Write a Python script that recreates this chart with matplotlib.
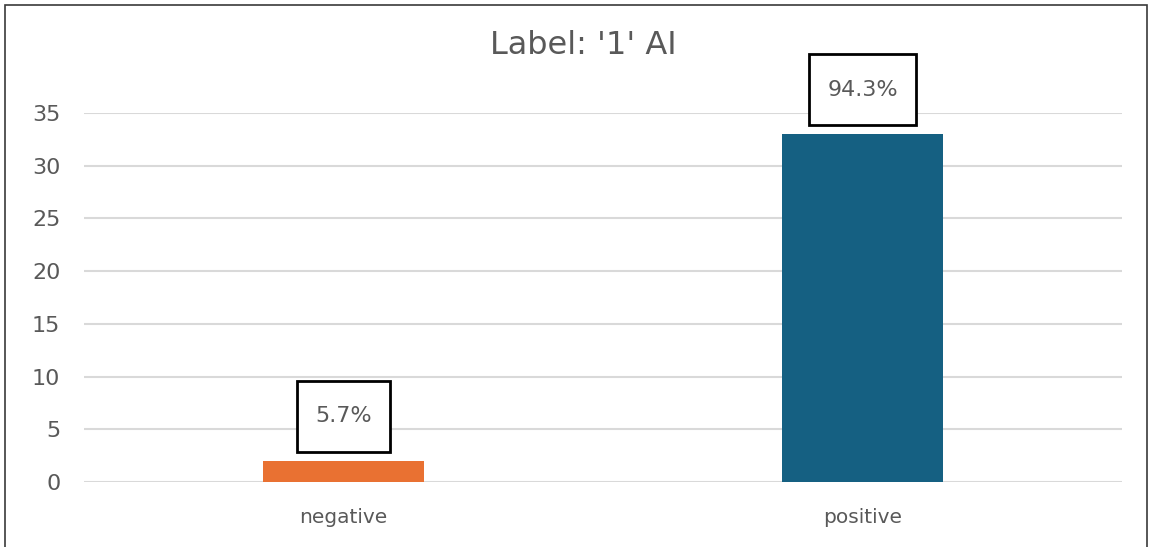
import matplotlib
matplotlib.use("Agg")
import matplotlib.pyplot as plt
from matplotlib.patches import Rectangle
from matplotlib.path import Path

# counts per sentiment class
categories = ["negative", "positive"]
counts = [2, 33]
bar_colors = ["#E97132", "#156082"]
title = "Label: '1' AI"

total = sum(counts)
shares = [c / total * 100 for c in counts]

plt.rcParams["font.family"] = ["DejaVu Sans"]
text_gray = "#595959"


def label_box(x0, y0, width, height, mutation_size):
    # plain rectangle, padded more vertically than horizontally
    px, py = 0.8 * mutation_size, 1.15 * mutation_size
    x0, y0 = x0 - px, y0 - py
    x1, y1 = x0 + width + 2 * px, y0 + height + 2 * py
    return Path([(x0, y0), (x1, y0), (x1, y1), (x0, y1), (x0, y0)], closed=True)


W, H = 1151, 547
fig = plt.figure(figsize=(W / 100, H / 100), dpi=100)
ax = fig.add_axes([84 / W, 1 - 482 / H, (1122 - 84) / W, (482 - 113) / H])

x = range(len(categories))
ax.bar(x, counts, width=0.312, color=bar_colors, zorder=3)

# percentage labels in framed boxes above each bar
for xi, c, s in zip(x, counts, shares):
    ax.annotate(f"{s:.1f}%", (xi, c), xytext=(0, 32), textcoords="offset points",
                ha="center", va="center", fontsize=16, color=text_gray, zorder=5,
                bbox=dict(boxstyle=label_box, fc="white", ec="black", lw=2))

ax.set_xlim(-0.5, 1.5)
ax.set_ylim(0, 35)
ax.set_yticks(range(0, 36, 5))
ax.set_xticks(list(x))
ax.set_xticklabels(categories, fontsize=14.5)
ax.tick_params(axis="y", labelsize=16)
ax.tick_params(axis="both", length=0, colors=text_gray)
ax.tick_params(axis="y", pad=17)
ax.tick_params(axis="x", pad=19)
ax.grid(axis="y", color="#D9D9D9", linewidth=1.5, zorder=0)
for sp in ax.spines.values():
    sp.set_visible(False)

fig.text(583 / W, 1 - 46 / H, title, ha="center", va="center",
         fontsize=23, color=text_gray)

# chart area frame
fig.patches.append(Rectangle((5 / W, -0.02), (1147 - 5) / W, 1.02 - 5 / H,
                             transform=fig.transFigure, fill=False,
                             ec="#3A3A3A", lw=1.2))

fig.savefig("out.png", dpi=100)
